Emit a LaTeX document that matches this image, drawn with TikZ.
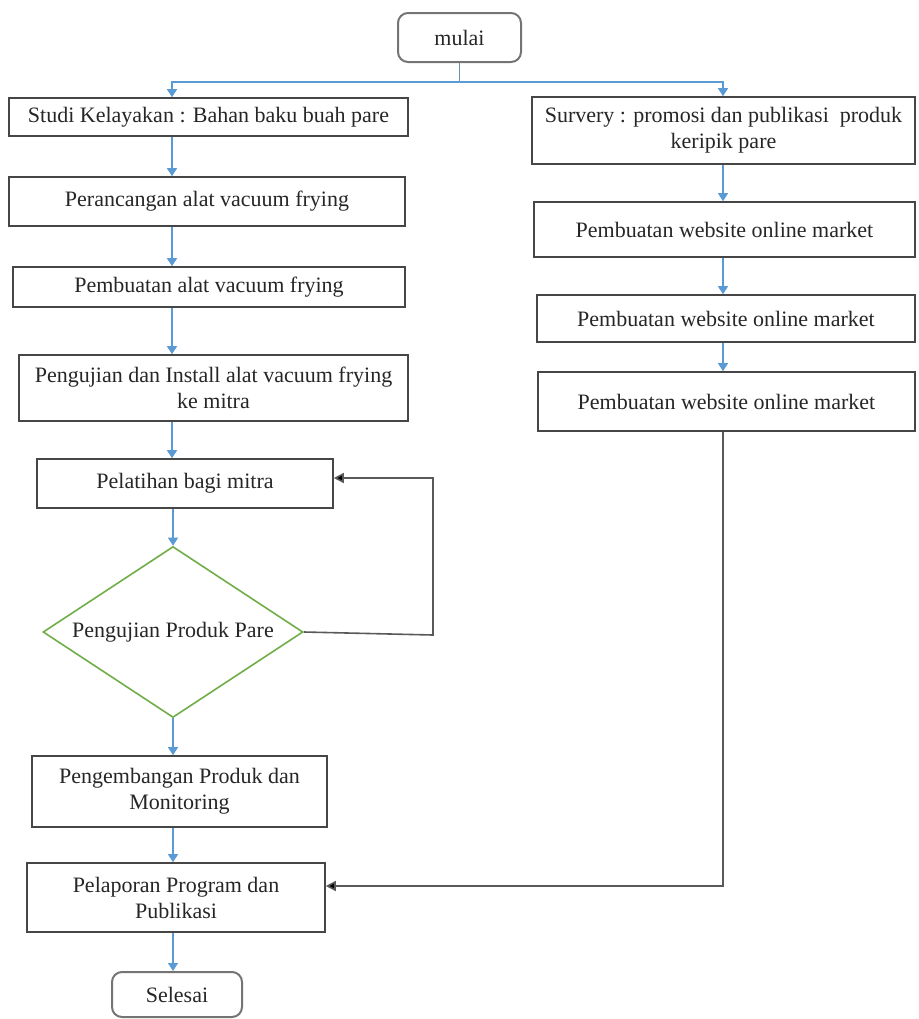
\documentclass[tikz,border=0pt]{standalone}
\usepackage{fontspec}
\setmainfont{Liberation Serif}
\usetikzlibrary{shapes.geometric,arrows.meta,calc}
\definecolor{flowblue}{RGB}{91,155,213}
\definecolor{boxgray}{RGB}{70,70,70}
\definecolor{dgreen}{RGB}{112,173,71}
\begin{document}
\begin{tikzpicture}[x=0.5pt,y=-0.5pt, font=\fontsize{11}{13}\selectfont,
 box/.style={draw=boxgray, line width=0.8pt, rectangle, inner sep=0pt, align=center, text=black!85},
 term/.style={draw=boxgray!75, line width=1pt, rounded corners=5pt, inner sep=0pt, align=center, text=black!85},
 dec/.style={draw=dgreen, line width=0.8pt, diamond, shape aspect=1.52, inner sep=0pt, align=center, text=black!85},
 flow/.style={draw=flowblue, line width=0.6pt, -{Triangle[width=5pt,length=4pt]}},
 plain/.style={draw=flowblue!60!gray, line width=0.6pt},
 back/.style={draw=black!65, line width=0.8pt, -{Triangle[width=5pt,length=5pt,fill=black]}}]
\useasboundingbox (0,0) rectangle (918,1019);
\coordinate (L) at (172,0);
\coordinate (R) at (723,0);
\coordinate (split) at (459.5,82);
\coordinate (loopx) at (433,0);
% terminals
\node[term, minimum width=61.5pt, minimum height=24.5pt] (mulai) at (459.5,37.5) {mulai};
\node[term, minimum width=65pt, minimum height=22.5pt] (selesai) at (177,994.5) {Selesai};
% left column
\node[box, minimum width=199.5pt, minimum height=19pt] (studi) at (208.5,117) {Studi Kelayakan : Bahan baku buah pare};
\node[box, minimum width=198pt, minimum height=24.5pt] (peran) at (207,201.5) {Perancangan alat vacuum frying};
\node[box, minimum width=196pt, minimum height=20pt] (pembA) at (209,287) {Pembuatan alat vacuum frying};
\node[box, minimum width=194.5pt, minimum height=33pt] (penguj) at (213.5,388) {Pengujian dan Install alat vacuum frying\\ke mitra};
\node[box, minimum width=148pt, minimum height=24.5pt] (pelat) at (185,483.5) {Pelatihan bagi mitra};
\node[dec, minimum width=130pt, minimum height=85.5pt] (diam) at (173,632) {Pengujian Produk Pare};
\node[box, minimum width=147.5pt, minimum height=35.5pt] (pengem) at (179.5,791.5) {Pengembangan Produk dan\\Monitoring};
\node[box, minimum width=149pt, minimum height=34.5pt] (pelap) at (176,897.5) {Pelaporan Program dan\\Publikasi};
% right column
\node[box, minimum width=191.5pt, minimum height=33.5pt] (survey) at (723.5,130.5) {Survery : promosi dan publikasi\ \ produk\\keripik pare};
\node[box, minimum width=190.5pt, minimum height=27.5pt] (web1) at (724.5,229.5) {Pembuatan website online market};
\node[box, minimum width=189pt, minimum height=23.5pt] (web2) at (726,318.5) {Pembuatan website online market};
\node[box, minimum width=188.5pt, minimum height=29.5pt] (web3) at (726.5,401.5) {Pembuatan website online market};
% connectors
\draw[plain] (mulai.south) -- (split);
\draw[flow] (split) -| (studi.north -| L);
\draw[flow] (split) -| (survey.north -| R);
\draw[flow] (studi.south -| L) -- (peran.north -| L);
\draw[flow] (peran.south -| L) -- (pembA.north -| L);
\draw[flow] (pembA.south -| L) -- (penguj.north -| L);
\draw[flow] (penguj.south -| L) -- (pelat.north -| L);
\draw[flow] (pelat.south -| diam.north) -- (diam.north);
\draw[flow] (diam.south) -- (pengem.north -| diam.south);
\draw[flow] (pengem.south -| diam.south) -- (pelap.north -| diam.south);
\draw[flow] (pelap.south -| diam.south) -- (selesai.north -| diam.south);
\draw[flow] (survey.south -| R) -- (web1.north -| R);
\draw[flow] (web1.south -| R) -- (web2.north -| R);
\draw[flow] (web2.south -| R) -- (web3.north -| R);
\draw[back] (diam.east) -- ([yshift=-1.5pt]diam.east -| loopx) |- ([yshift=2.75pt]pelat.east);
\draw[back] (web3.south -| R) |- ([yshift=5.75pt]pelap.east);
\end{tikzpicture}
\end{document}
